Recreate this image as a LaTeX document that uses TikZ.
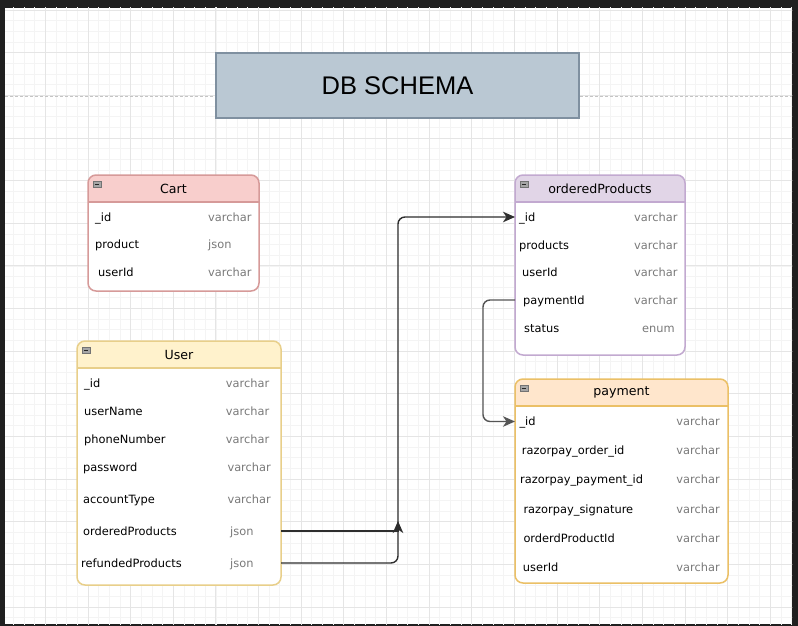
\documentclass[tikz,border=0pt]{standalone}
\usepackage{fontspec}
\setmainfont{DejaVu Sans}
\newfontfamily\titlefont{Liberation Sans}
\usetikzlibrary{arrows.meta}
\definecolor{darkframe}{HTML}{202020}
\definecolor{minorg}{HTML}{F4F4F4}
\definecolor{majorg}{HTML}{E5E5E5}
\definecolor{pagebrk}{HTML}{C4C4C4}
\definecolor{titlefill}{HTML}{BAC8D3}
\definecolor{titledraw}{HTML}{7F90A0}
\definecolor{cartfill}{HTML}{F8CECC}
\definecolor{cartdraw}{HTML}{D69A99}
\definecolor{userfill}{HTML}{FFF2CC}
\definecolor{userdraw}{HTML}{E8CF8A}
\definecolor{opfill}{HTML}{E1D5E7}
\definecolor{opdraw}{HTML}{C2A9D0}
\definecolor{payfill}{HTML}{FFE6CC}
\definecolor{paydraw}{HTML}{EBC066}
\definecolor{typegray}{HTML}{7A7A7A}
\definecolor{namecol}{HTML}{000000}
\definecolor{conncol}{HTML}{2E2E2E}
\definecolor{conncolb}{HTML}{555555}
\newcommand\fldfont{\fontsize{11.4}{13}\selectfont}
\newcommand\hdrfont{\fontsize{12.6}{15}\selectfont}
\tikzset{
  minorline/.style={draw=minorg, line width=0.8pt},
  majorline/.style={draw=majorg, line width=0.9pt},
  titlebox/.style={draw=titledraw, fill=titlefill, line width=1.5pt, minimum width=363pt, minimum height=65pt, inner sep=0pt, font=\titlefont\fontsize{25.5}{28}\selectfont, text=black},
  tblframe/.style={rounded corners=8pt, line width=1.5pt, inner sep=0pt, outer sep=0pt},
  tbltitle/.style={font=\hdrfont, text=black, inner sep=0pt},
  collapse/.style={draw=black!55, fill=black!35, line width=0.5pt, minimum width=7.5pt, minimum height=6pt, inner sep=0pt,
    path picture={\draw[black!85, line width=1pt] ([xshift=1.3pt]path picture bounding box.west) -- ([xshift=-1.3pt]path picture bounding box.east);}},
  fld/.style={font=\fldfont, text=namecol, anchor=west, inner sep=0pt, text height=8.5pt, text depth=0pt},
  typl/.style={font=\fldfont, text=typegray, anchor=west, inner sep=0pt, text height=8.5pt, text depth=0pt},
  typr/.style={font=\fldfont, text=typegray, anchor=east, inner sep=0pt, text height=8.5pt, text depth=0pt},
  conn/.style={draw=conncol, line width=1.4pt, rounded corners=7pt, -{Stealth[length=12pt,width=10.5pt,inset=3.5pt]}},
}
\newcommand\dbtable[9]{%
  \begin{scope}
    \clip[rounded corners=8pt] (#2,#3) rectangle (#4,#5);
    \fill[white] (#2,#3) rectangle (#4,#5);
    \fill[#7] (#2,#3) rectangle (#4,#6);
  \end{scope}
  \draw[#8, line width=1.2pt] (#2,#6) -- (#4,#6);
  \node[tblframe, draw=#8, minimum width={#4pt-#2pt}, minimum height={#5pt-#3pt}] (#1) at ({(#2+#4)/2},{(#3+#5)/2}) {};
  \node[tbltitle] (#1-title) at ({(#2+#4)/2},{(#3+#6)/2}) {#9};
  \node[collapse] (#1-icon) at ({#2+9},{#3+9.3}) {};
}
\begin{document}
\begin{tikzpicture}[x=1pt,y=-1pt]
\fill[darkframe] (0,0) rectangle (798,626);
\useasboundingbox (0,0) rectangle (798,626);
\fill[white] (5,8) rectangle (792,624);
\begin{scope}
  \clip (5,8) rectangle (792,624);
  \foreach \i in {0,...,75} \draw[minorline] ({2.65+\i*10.6625},0) -- ++(0,626);
  \foreach \i in {0,...,59} \draw[minorline] (0,{10+\i*10.6625}) -- ++(798,0);
  \foreach \i in {0,...,19} \draw[majorline] ({2.65+\i*42.65},0) -- ++(0,626);
  \foreach \i in {0,...,15} \draw[majorline] (0,{10+\i*42.65}) -- ++(798,0);
\end{scope}
\draw[pagebrk, line width=0.9pt, dash pattern=on 3pt off 2pt] (5,96) -- (792,96);

\node[titlebox] (title) at (397.5,85.5) {DB SCHEMA};

% Cart
\dbtable{cart}{88}{175}{259}{291}{202}{cartfill}{cartdraw}{Cart}
\node[fld] (cart-id) at (95,217) {\_id};
\node[fld] (cart-product) at (95,244) {product};
\node[fld] (cart-userid) at (98,272) {userId};
\node[typl] (cart-id-t) at (208,217) {varchar};
\node[typl] (cart-product-t) at (208,244) {json};
\node[typl] (cart-userid-t) at (208,272) {varchar};

% User
\dbtable{user}{77}{341}{281}{585}{368}{userfill}{userdraw}{User}
\node[fld] (u-id) at (84,383) {\_id};
\node[fld] (u-name) at (84,411) {userName};
\node[fld] (u-phone) at (84,439) {phoneNumber};
\node[fld] (u-pw) at (83,467) {password};
\node[fld] (u-acc) at (83,499) {accountType};
\node[fld] (u-op) at (83,531) {orderedProducts};
\node[fld] (u-rp) at (81,563) {refundedProducts};
\node[typl] (u-id-t) at (225.7,383) {varchar};
\node[typl] (u-name-t) at (225.7,411) {varchar};
\node[typl] (u-phone-t) at (225.7,439) {varchar};
\node[typl] (u-pw-t) at (227.3,467) {varchar};
\node[typl] (u-acc-t) at (227.3,499) {varchar};
\node[typl] (u-op-t) at (230,531) {json};
\node[typl] (u-rp-t) at (230,563) {json};

% orderedProducts
\dbtable{op}{515}{175}{685}{355}{202}{opfill}{opdraw}{orderedProducts}
\node[fld] (op-id) at (519,217) {\_id};
\node[fld] (op-products) at (519,245) {products};
\node[fld] (op-userid) at (522,272) {userId};
\node[fld] (op-pid) at (523,300) {paymentId};
\node[fld] (op-status) at (524,328) {status};
\node[typr] (op-id-t) at (677.7,217) {varchar};
\node[typr] (op-products-t) at (677.7,245) {varchar};
\node[typr] (op-userid-t) at (677.7,272) {varchar};
\node[typr] (op-pid-t) at (677.7,300) {varchar};
\node[typr] (op-status-t) at (675,328) {enum};

% payment
\dbtable{pay}{515}{379}{728}{583}{406}{payfill}{paydraw}{payment}
\node[fld] (pay-id) at (519.3,421.5) {\_id};
\node[fld] (pay-oid) at (521.7,450) {razorpay\_order\_id};
\node[fld] (pay-payid) at (520,479) {razorpay\_payment\_id};
\node[fld] (pay-sig) at (523.3,509) {razorpay\_signature};
\node[fld] (pay-opid) at (523.3,538) {orderdProductId};
\node[fld] (pay-userid) at (522.7,567.5) {userId};
\node[typr] (pay-id-t) at (720,421.5) {varchar};
\node[typr] (pay-oid-t) at (720,450) {varchar};
\node[typr] (pay-payid-t) at (720,479) {varchar};
\node[typr] (pay-sig-t) at (720,509) {varchar};
\node[typr] (pay-opid-t) at (720,538) {varchar};
\node[typr] (pay-userid-t) at (720,567.5) {varchar};

% connectors
\coordinate (jx) at (398,0);
\coordinate (jx2) at (483,0);
\draw[conn] (user.east |- u-rp) -- (jx |- u-rp) -- (jx |- op-id) -- (op.west |- op-id);
\draw[conn, rounded corners=0pt] (user.east |- u-op) -- (jx |- u-op) -- ([yshift=10pt]jx |- u-op);
\draw[conn, draw=conncolb] (op.west |- op-pid) -- (jx2 |- op-pid) -- (jx2 |- pay-id) -- (pay.west |- pay-id);
\end{tikzpicture}
\end{document}
